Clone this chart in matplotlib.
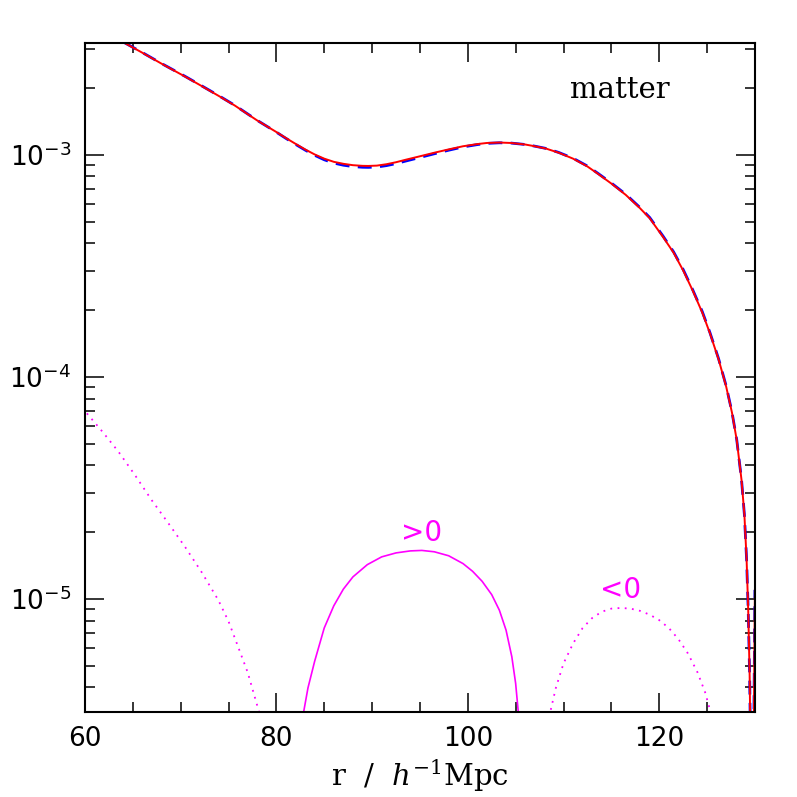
import numpy as np
import matplotlib.pyplot as plt
from matplotlib.ticker import MultipleLocator, NullFormatter, LogLocator

plt.rcParams['mathtext.fontset'] = 'dejavuserif'

# main correlation curve (red: model, blue dashed: reference)
r_main = [60, 62, 64.2, 66, 68, 70.45, 72, 74, 75.67, 78, 80, 81, 82, 83, 84, 85,
          86, 87, 88, 89, 89.6, 90.5, 91.5, 92.5, 93.5, 95, 96.5, 98, 99.5, 101,
          102, 103.3, 104.5, 106, 107, 108.2, 109.5, 111, 112.5, 113.6, 115,
          116.5, 118, 119, 120.4, 121.5, 122.5, 123.5, 124.5, 125.3, 126.2, 127.0,
          127.6, 128.1, 128.6, 128.9, 129.13, 129.3, 129.45, 129.55, 129.75,
          129.9, 130]
xi_red = [4.0e-3, 3.6e-3, 3.184e-3, 2.884e-3, 2.576e-3, 2.254e-3, 2.065e-3,
          1.841e-3, 1.667e-3, 1.429e-3, 1.268e-3, 1.191e-3, 1.122e-3, 1.059e-3,
          1.005e-3, 9.62e-4, 9.31e-4, 9.12e-4, 8.99e-4, 8.93e-4, 8.92e-4, 8.95e-4,
          9.08e-4, 9.27e-4, 9.51e-4, 9.86e-4, 1.023e-3, 1.059e-3, 1.094e-3,
          1.119e-3, 1.132e-3, 1.137e-3, 1.132e-3, 1.114e-3, 1.094e-3, 1.067e-3,
          1.023e-3, 9.62e-4, 8.87e-4, 8.22e-4, 7.43e-4, 6.61e-4, 5.75e-4, 5.19e-4,
          4.27e-4, 3.63e-4, 3.02e-4, 2.45e-4, 1.95e-4, 1.574e-4, 1.202e-4, 9.04e-5,
          6.92e-5, 5.20e-5, 3.44e-5, 2.40e-5, 1.51e-5, 8.9e-6, 4.5e-6, 2.0e-6,
          1.0e-6, 3.2e-6, 1.1e-5]
xi_blue = [4.0e-3, 3.6e-3, 3.19e-3, 2.89e-3, 2.58e-3, 2.26e-3, 2.07e-3,
           1.846e-3, 1.671e-3, 1.431e-3, 1.266e-3, 1.187e-3, 1.116e-3, 1.052e-3,
           9.96e-4, 9.51e-4, 9.19e-4, 8.99e-4, 8.86e-4, 8.80e-4, 8.79e-4, 8.82e-4,
           8.95e-4, 9.14e-4, 9.38e-4, 9.74e-4, 1.012e-3, 1.050e-3, 1.086e-3,
           1.113e-3, 1.127e-3, 1.134e-3, 1.131e-3, 1.114e-3, 1.095e-3, 1.069e-3,
           1.026e-3, 9.66e-4, 8.91e-4, 8.26e-4, 7.47e-4, 6.65e-4, 5.79e-4, 5.23e-4,
           4.31e-4, 3.66e-4, 3.05e-4, 2.47e-4, 1.97e-4, 1.585e-4, 1.21e-4, 9.1e-5,
           6.96e-5, 5.22e-5, 3.45e-5, 2.40e-5, 1.51e-5, 8.9e-6, 4.5e-6, 2.0e-6,
           1.0e-6, 3.2e-6, 1.1e-5]

# difference terms (magenta)
r_neg1 = [60.2, 61.8, 63.5, 65.2, 66.97, 68.7, 70.45, 72.2, 73.93, 75.0, 76.0,
          77.0, 78.04, 78.3]
d_neg1 = [6.86e-5, 5.69e-5, 4.61e-5, 3.63e-5, 2.79e-5, 2.20e-5, 1.72e-5,
          1.32e-5, 9.9e-6, 7.94e-6, 6.1e-6, 4.68e-6, 3.27e-6, 3.0e-6]

r_pos = [82.8, 83.3, 84.0, 85.0, 86.0, 87.0, 88.0, 89.5, 91.0, 92.5, 94.0, 95.2,
         96.5, 98.0, 99.5, 100.5, 101.5, 102.5, 103.3, 104.0, 104.6, 105.0, 105.3]
d_pos = [3.02e-6, 3.98e-6, 5.25e-6, 7.41e-6, 9.33e-6, 1.109e-5, 1.259e-5,
         1.429e-5, 1.549e-5, 1.614e-5, 1.648e-5, 1.656e-5, 1.633e-5, 1.567e-5,
         1.445e-5, 1.334e-5, 1.202e-5, 1.047e-5, 8.91e-6, 7.24e-6, 5.50e-6,
         4.17e-6, 3.02e-6]

r_neg2 = [108.5, 109.2, 110.0, 111.0, 112.0, 113.0, 114.0, 115.0, 116.0, 117.0,
          118.0, 119.0, 120.0, 121.0, 122.0, 123.0, 124.0, 124.8, 125.5]
d_neg2 = [2.95e-6, 3.98e-6, 5.13e-6, 6.31e-6, 7.41e-6, 8.22e-6, 8.77e-6,
          9.06e-6, 9.12e-6, 9.06e-6, 8.85e-6, 8.51e-6, 8.04e-6, 7.41e-6,
          6.61e-6, 5.69e-6, 4.68e-6, 3.80e-6, 2.95e-6]

fig = plt.figure(figsize=(7.97, 7.97), dpi=100)
ax = fig.add_axes([0.1066, 0.1066, 0.8406, 0.8394])

ax.plot(r_main, xi_blue, color='blue', lw=2, dashes=(5, 3))
ax.plot(r_main, xi_red, color='red', lw=1.4)
ax.plot(r_neg1, d_neg1, color='magenta', lw=1.3, linestyle=(0, (1, 3)))
ax.plot(r_pos, d_pos, color='magenta', lw=1.2)
ax.plot(r_neg2, d_neg2, color='magenta', lw=1.3, linestyle=(0, (1, 3)))

ax.set_yscale('log')
ax.set_xlim(60, 130)
ax.set_ylim(3.1e-6, 3.19e-3)

ax.xaxis.set_major_locator(MultipleLocator(20))
ax.xaxis.set_minor_locator(MultipleLocator(5))
ax.yaxis.set_major_locator(LogLocator(base=10))
ax.yaxis.set_minor_locator(LogLocator(base=10, subs=np.arange(2, 10)))
ax.yaxis.set_minor_formatter(NullFormatter())

ax.tick_params(which='both', direction='in', top=True, right=True,
               labelsize=19, width=1.1, pad=10)
ax.tick_params(which='major', length=14)
ax.tick_params(which='minor', length=7)
for s in ax.spines.values():
    s.set_linewidth(1.5)

ax.set_xlabel(r'r  /  $h^{-1}$Mpc', fontsize=21, family='DejaVu Serif', labelpad=4)

ax.text(0.798, 0.93, 'matter', transform=ax.transAxes, fontsize=21,
        family='DejaVu Serif', ha='center', va='center')
ax.text(95.2, 1.98e-5, '>0', color='magenta', fontsize=20, ha='center', va='center')
ax.text(116, 1.1e-5, '<0', color='magenta', fontsize=20, ha='center', va='center')

fig.savefig('out.png', dpi=100)
